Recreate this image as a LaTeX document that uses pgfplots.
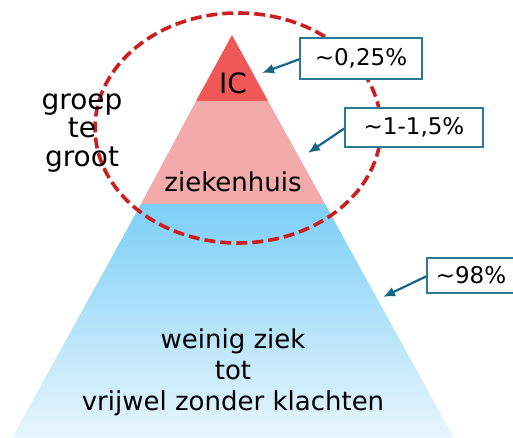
\documentclass[border=0pt]{standalone}
\usepackage{pgfplots}
\pgfplotsset{compat=1.18}
\usetikzlibrary{arrows.meta,shapes.geometric}
\usepackage{fontspec}
\setmainfont{DejaVu Sans}
\definecolor{icred}{RGB}{240,88,88}
\definecolor{zhpink}{RGB}{242,170,170}
\definecolor{bluetop}{RGB}{125,207,247}
\definecolor{bluebot}{RGB}{232,246,253}
\definecolor{dashred}{RGB}{204,30,30}
\definecolor{teal}{RGB}{22,100,138}
\definecolor{boxteal}{RGB}{45,122,150}

\begin{document}
\begin{tikzpicture}
\begin{axis}[
    x=1pt, y=1pt,
    xmin=0, xmax=513, ymin=0, ymax=438,
    hide axis, clip=true,
    scale only axis,
  ]
  % pyramid layers (pixel x, 438 - pixel y)
  \addplot[draw=none, top color=bluetop, bottom color=bluebot]
    coordinates {(141,234) (325,234) (454,0) (12,0)} -- cycle;
  \addplot[draw=none, fill=zhpink]
    coordinates {(196,337) (268,337) (325,234) (141,234)} -- cycle;
  \addplot[draw=none, fill=icred]
    coordinates {(232,403) (268,337) (196,337)} -- cycle;

  % "groep te groot" ring
  \node[ellipse, draw=dashred, line width=3.6pt, dash pattern=on 11pt off 5pt,
        minimum width=286pt, minimum height=230pt, inner sep=0pt]
    at (axis cs:238,310) {};

  % arrows
  \draw[teal, line width=2.2pt, -{Latex[length=12pt,width=10pt]}]
    (axis cs:300,379) -- (axis cs:262,365);
  \draw[teal, line width=2.2pt, -{Latex[length=12pt,width=10pt]}]
    (axis cs:345,310) -- (axis cs:308,285);
  \draw[teal, line width=2.2pt, -{Latex[length=12pt,width=10pt]}]
    (axis cs:427,162) -- (axis cs:383,141);

  % label boxes
  \draw[boxteal, line width=1.8pt, fill=white] (axis cs:300,400) rectangle (axis cs:422,359);
  \draw[boxteal, line width=1.8pt, fill=white] (axis cs:345,330) rectangle (axis cs:483,291);
  \draw[boxteal, line width=1.8pt, fill=white] (axis cs:427,180) rectangle (axis cs:520,145);

  \node[font=\fontsize{23}{26}\selectfont] at (axis cs:361,379.5) {\textasciitilde0,25\%};
  \node[font=\fontsize{23}{26}\selectfont] at (axis cs:414,310.5) {\textasciitilde1-1,5\%};
  \node[font=\fontsize{23}{26}\selectfont] at (axis cs:471,162.5) {\textasciitilde98\%};

  \node[font=\fontsize{28}{32}\selectfont] at (axis cs:233,355) {IC};
  \node[font=\fontsize{26}{30}\selectfont, anchor=base] at (axis cs:233,246) {ziekenhuis};
  \node[font=\fontsize{28}{28.5}\selectfont, align=center] at (axis cs:82,305)
    {groep\\te\\groot};
  \node[font=\fontsize{26}{31}\selectfont, align=center] at (axis cs:233,66)
    {weinig ziek\\tot\\vrijwel zonder klachten};
\end{axis}
\pgfresetboundingbox
\path (current axis.south west) rectangle (current axis.north east);
\end{tikzpicture}
\end{document}
